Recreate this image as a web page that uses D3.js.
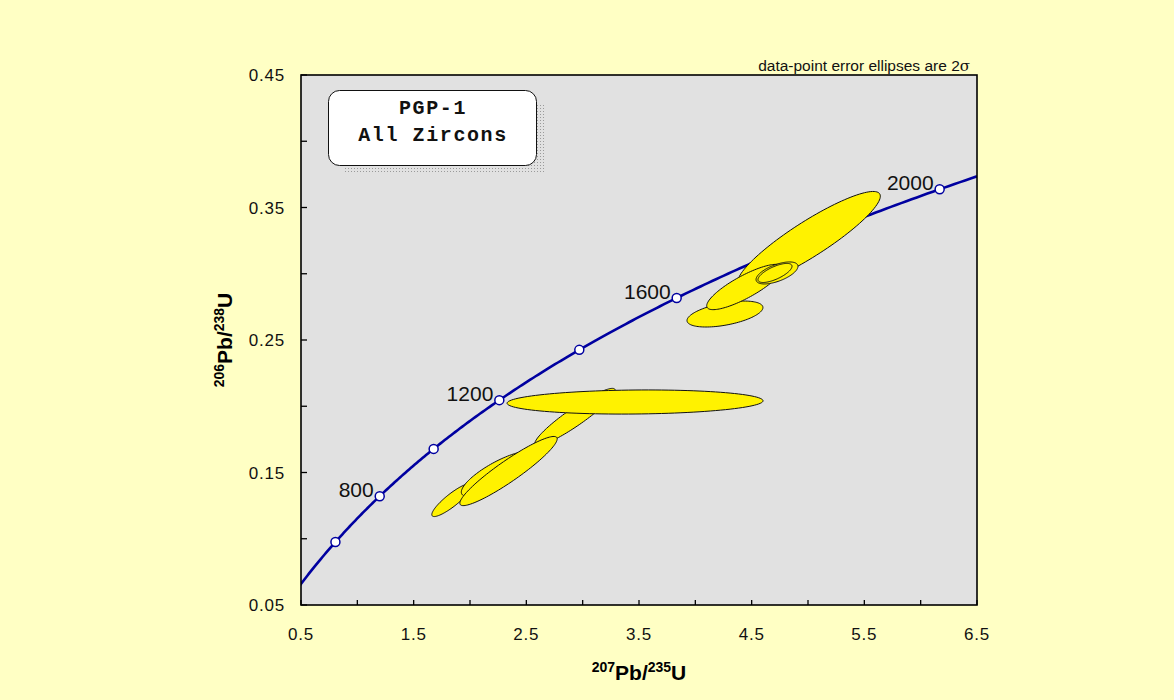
<!DOCTYPE html>
<html>
<head>
<meta charset="utf-8">
<script src="https://cdn.jsdelivr.net/npm/d3@7"></script>
<style>
  body { margin: 0; background: #ffffc4; }
  svg { display: block; }
</style>
</head>
<body>
<div id="chart-area"></div>
<script>
// ticks
const xTicks = [0.5, 1.5, 2.5, 3.5, 4.5, 5.5, 6.5]
const yTicks = [0.05, 0.15, 0.25, 0.35, 0.45]

// concordia age markers (Ma)
const markerAges = [600, 800, 1000, 1200, 1400, 1600, 1800, 2000]
const labelAges = [800, 1200, 1600, 2000]

// error ellipses (draw order): centre, half-extent x / y, correlation
const ellX   = [1.840, 2.249, 2.932, 2.342, 3.465, 4.263, 5.009, 4.437, 4.725, 4.707]
const ellY   = [0.1292, 0.1489, 0.1919, 0.1511, 0.2032, 0.2696, 0.3262, 0.2900, 0.3006, 0.3006]
const ellSX  = [0.179, 0.326, 0.357, 0.432, 1.136, 0.337, 0.633, 0.336, 0.186, 0.151]
const ellSY  = [0.01245, 0.0171, 0.0216, 0.0261, 0.0091, 0.0098, 0.0359, 0.0171, 0.0083, 0.0072]
const ellRho = [0.88, 0.80, 0.93, 0.93, 0.10, 0.50, 0.90, 0.83, 0.60, 0.70]

const L238 = 1.55125e-10
const L235 = 9.8485e-10

const MARGIN = { LEFT: 301, TOP: 75 }
const WIDTH = 676
const HEIGHT = 530

const svg = d3.select("#chart-area")
  .append("svg")
  .attr("width", 1174)
  .attr("height", 700)

svg.append("rect")
  .attr("width", 1174).attr("height", 700)
  .attr("fill", "#ffffc4")

const g = svg.append("g")
  .attr("transform", `translate(${MARGIN.LEFT}, ${MARGIN.TOP})`)

const x = d3.scaleLinear().domain([0.5, 6.5]).range([0, WIDTH])
const y = d3.scaleLinear().domain([0.05, 0.45]).range([HEIGHT, 0])

// plot background
g.append("rect")
  .attr("width", WIDTH).attr("height", HEIGHT)
  .attr("fill", "#e1e1e1")

const defs = svg.append("defs")
defs.append("clipPath").attr("id", "clip")
  .append("rect").attr("width", WIDTH).attr("height", HEIGHT)

const pat = defs.append("pattern")
  .attr("id", "dots").attr("patternUnits", "userSpaceOnUse")
  .attr("width", 3).attr("height", 3)
pat.append("rect").attr("width", 1).attr("height", 1).attr("fill", "#9a9a9a")

const plot = g.append("g").attr("clip-path", "url(#clip)")

// concordia curve
const tMax = Math.log(1 + 6.5) / L235
const curveTs = d3.range(0, 301).map(i => tMax * i / 300)
const conc = t => [Math.exp(L235 * t) - 1, Math.exp(L238 * t) - 1]

plot.append("path")
  .attr("d", d3.line()(curveTs.map(t => { const p = conc(t); return [x(p[0]), y(p[1])] })))
  .attr("fill", "none")
  .attr("stroke", "#0000a0")
  .attr("stroke-width", 2.6)

plot.selectAll("circle.marker")
  .data(markerAges)
  .enter().append("circle")
  .attr("class", "marker")
  .attr("cx", d => x(conc(d * 1e6)[0]))
  .attr("cy", d => y(conc(d * 1e6)[1]))
  .attr("r", 4.5)
  .attr("fill", "white")
  .attr("stroke", "#0000a0")
  .attr("stroke-width", 1.5)

plot.selectAll("text.age")
  .data(labelAges)
  .enter().append("text")
  .attr("class", "age")
  .attr("x", d => x(conc(d * 1e6)[0]) - 6)
  .attr("y", d => y(conc(d * 1e6)[1]) + 1)
  .attr("text-anchor", "end")
  .attr("font-family", "Liberation Sans, Arial, sans-serif")
  .attr("font-size", "21px")
  .attr("fill", "#111")
  .text(d => d)

// error ellipses
const ellLine = d3.line().curve(d3.curveLinearClosed)
const angles = d3.range(0, 120).map(i => 2 * Math.PI * i / 120)

ellX.forEach((cx, i) => {
  const pts = angles.map(a => {
    const ex = cx + ellSX[i] * Math.cos(a)
    const ey = ellY[i] + ellSY[i] * (ellRho[i] * Math.cos(a) + Math.sqrt(1 - ellRho[i] * ellRho[i]) * Math.sin(a))
    return [x(ex), y(ey)]
  })
  plot.append("path")
    .attr("d", ellLine(pts))
    .attr("fill", "#fff200")
    .attr("stroke", "#111")
    .attr("stroke-width", 1)
})

// ticks (inward)
const xMinor = d3.range(0, 13).map(i => 0.5 + i * 0.5)
const yMinor = d3.range(0, 9).map(i => 0.05 + i * 0.05)

g.selectAll("line.xt").data(xMinor).enter().append("line")
  .attr("x1", d => x(d)).attr("x2", d => x(d))
  .attr("y1", HEIGHT).attr("y2", HEIGHT - 5)
  .attr("stroke", "#000").attr("stroke-width", 1.3)

g.selectAll("line.yt").data(yMinor).enter().append("line")
  .attr("y1", d => y(d)).attr("y2", d => y(d))
  .attr("x1", 0).attr("x2", 6)
  .attr("stroke", "#000").attr("stroke-width", 1.3)

g.append("rect")
  .attr("width", WIDTH).attr("height", HEIGHT)
  .attr("fill", "none")
  .attr("stroke", "#000")
  .attr("stroke-width", 1.6)

// tick labels
g.selectAll("text.xl").data(xTicks).enter().append("text")
  .attr("x", d => x(d)).attr("y", HEIGHT + 35)
  .attr("text-anchor", "middle")
  .attr("font-family", "Liberation Sans, Arial, sans-serif")
  .attr("font-size", "17px").attr("letter-spacing", "0.8px")
  .attr("fill", "#111")
  .text(d => d.toFixed(1))

g.selectAll("text.yl").data(yTicks).enter().append("text")
  .attr("x", -16).attr("y", d => y(d) + 6)
  .attr("text-anchor", "end")
  .attr("font-family", "Liberation Sans, Arial, sans-serif")
  .attr("font-size", "17px").attr("letter-spacing", "0.8px")
  .attr("fill", "#111")
  .text(d => d.toFixed(2))

// axis titles
const xTitle = svg.append("text")
  .attr("x", MARGIN.LEFT + WIDTH / 2).attr("y", 680)
  .attr("text-anchor", "middle")
  .attr("font-family", "Liberation Sans, Arial, sans-serif")
  .attr("font-weight", "bold").attr("font-size", "21px")
xTitle.append("tspan").attr("font-size", "14px").attr("dy", "-8").text("207")
xTitle.append("tspan").attr("dy", "8").text("Pb/")
xTitle.append("tspan").attr("font-size", "14px").attr("dy", "-8").text("235")
xTitle.append("tspan").attr("dy", "8").text("U")

const yTitle = svg.append("text")
  .attr("transform", `translate(232, ${MARGIN.TOP + HEIGHT / 2}) rotate(-90)`)
  .attr("text-anchor", "middle")
  .attr("font-family", "Liberation Sans, Arial, sans-serif")
  .attr("font-weight", "bold").attr("font-size", "21px")
yTitle.append("tspan").attr("font-size", "14px").attr("dy", "-8").text("206")
yTitle.append("tspan").attr("dy", "8").text("Pb/")
yTitle.append("tspan").attr("font-size", "14px").attr("dy", "-8").text("238")
yTitle.append("tspan").attr("dy", "8").text("U")

// note
const note = svg.append("text")
  .attr("x", 970).attr("y", 71)
  .attr("text-anchor", "end")
  .attr("font-family", "Liberation Sans, Arial, sans-serif")
  .attr("font-size", "15.5px").attr("fill", "#111")
note.append("tspan").text("data-point error ellipses are 2")
note.append("tspan").attr("font-family", "DejaVu Serif, serif").attr("font-size", "15px").text("σ")

// sample label box
svg.append("rect")
  .attr("x", 343).attr("y", 103).attr("width", 202).attr("height", 69)
  .attr("fill", "url(#dots)")
svg.append("rect")
  .attr("x", 328.5).attr("y", 90.5).attr("width", 208).attr("height", 75)
  .attr("rx", 11).attr("fill", "white")
  .attr("stroke", "#111").attr("stroke-width", 1)

const boxText = ["PGP-1", "All Zircons"]
svg.selectAll("text.box").data(boxText).enter().append("text")
  .attr("x", 433).attr("y", (d, i) => 114 + i * 27)
  .attr("text-anchor", "middle")
  .attr("font-family", "Liberation Mono, Courier New, monospace")
  .attr("font-weight", "bold").attr("font-size", "20px")
  .attr("letter-spacing", "1.6px")
  .attr("fill", "#111")
  .text(d => d)
</script>
</body>
</html>
